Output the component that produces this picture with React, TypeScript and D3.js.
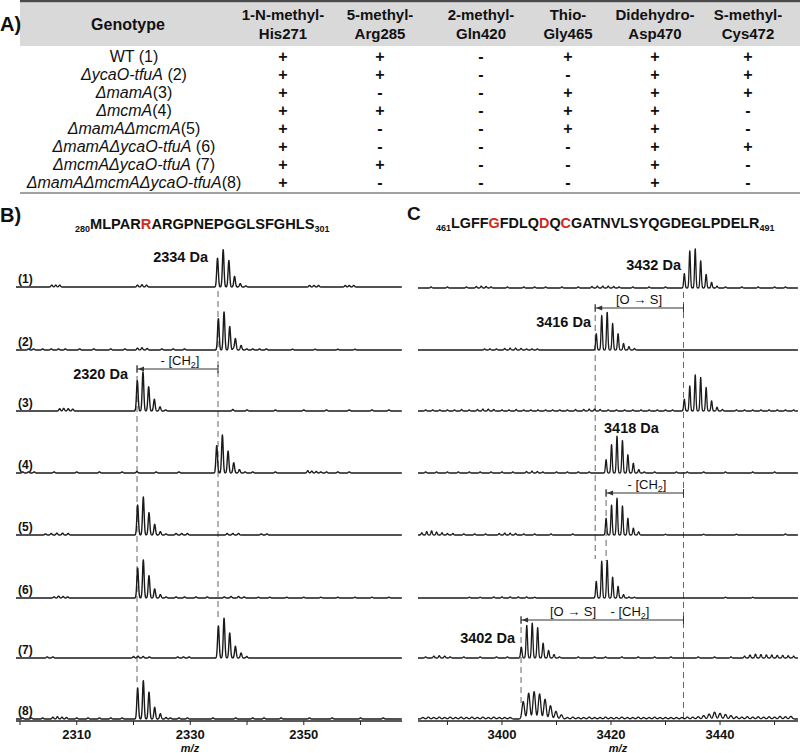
import React from "react";
import * as d3 from "d3";

const FONT = "'Liberation Sans', Arial, Helvetica, sans-serif";
const RED = "#d42a20";

// ---------- Table (A) ----------
const modHeaders1 = ["1-N-methyl-", "5-methyl-", "2-methyl-", "Thio-", "Didehydro-", "S-methyl-"];
const modHeaders2 = ["His271", "Arg285", "Gln420", "Gly465", "Asp470", "Cys472"];
const genotypeNames = ["WT", "ΔycaO-tfuA", "ΔmamA", "ΔmcmA", "ΔmamAΔmcmA", "ΔmamAΔycaO-tfuA", "ΔmcmAΔycaO-tfuA", "ΔmamAΔmcmAΔycaO-tfuA"];
const genotypeItalic = [false, true, true, true, true, true, true, true];
const genotypeSuffix = [" (1)", " (2)", "(3)", "(4)", "(5)", " (6)", " (7)", "(8)"];
const modPresence = ["++-+++", "++--++", "+--+++", "++-++-", "+--++-", "+---++", "++--+-", "+---+-"];

// ---------- Spectra (B) ----------
const bDomain = [2299.3, 2367.3];
const bTicks = [2300, 2310, 2320, 2330, 2340, 2350, 2360];
const bTickLabels = [2310, 2330, 2350];
const bMono = [2334.8, 2334.95, 2320.67, 2334.66, 2320.73, 2320.73, 2334.95, 2320.73];
const bEnvelopes = [
  [76, 98, 70, 28, 9, 3],
  [83, 100, 62, 30, 12, 3],
  [80, 103, 64, 31, 11, 3],
  [72, 100, 58, 27, 9, 3],
  [79, 100, 59, 28, 9, 3],
  [79, 100, 59, 24, 9, 3],
  [85, 105, 66, 31, 13, 4],
  [82, 101, 71, 31, 14, 4],
];
const bMinor = [
  [[2305.6, 5], [2306.3, 5], [2307, 5], [2320.7, 5], [2321.5, 6], [2322.3, 5], [2351, 4], [2351.8, 4], [2352.6, 4], [2357.3, 4], [2358, 4], [2358.8, 4]],
  [[2301.5, 3], [2302.4, 3], [2304, 3], [2305.5, 3], [2306.8, 3], [2308, 3], [2310.5, 3], [2313, 3], [2316, 3], [2318.5, 3], [2320.7, 5], [2321.5, 6], [2322.4, 4], [2325, 3], [2327, 3], [2329, 3], [2337.6, 4], [2341, 3], [2342.2, 3], [2343.4, 3], [2348, 2], [2352, 2], [2356, 2], [2359, 2]],
  [[2307, 6], [2307.7, 7], [2308.5, 6], [2309.3, 5], [2337.5, 4], [2340, 3], [2345, 3], [2350, 3], [2354, 3], [2358, 3], [2362, 3], [2365, 3]],
  [[2300.5, 3], [2301.5, 3], [2302.5, 3], [2306, 3], [2310, 3], [2314, 3], [2318, 3], [2320.6, 4], [2324, 3], [2328, 3], [2341, 3], [2345, 3], [2350.7, 6], [2351.4, 5], [2352.2, 4], [2353, 3], [2354, 3], [2356, 3], [2358, 3]],
  [[2304.5, 3], [2305.5, 4], [2306.5, 5], [2307.5, 5], [2308.5, 4], [2327.5, 4], [2328.5, 4], [2329.5, 4], [2336.5, 4], [2337.5, 4], [2338.5, 4], [2342.5, 3], [2343.5, 3]],
  [[2306, 3], [2306.8, 5], [2307.6, 4], [2308.4, 3], [2327.5, 3], [2329, 3], [2331, 3], [2333, 3], [2336, 3], [2337.2, 4], [2338.5, 4], [2339.5, 3], [2342, 2], [2344, 2], [2347, 2], [2350, 2], [2353, 2], [2356, 2], [2359, 2], [2362, 2], [2365, 2]],
  [[2304.8, 3], [2305.8, 3], [2320, 4], [2320.8, 5], [2321.7, 4], [2322.8, 3], [2327.8, 3], [2328.8, 3], [2329.8, 3]],
  [[2300.5, 3], [2302, 3], [2304, 3], [2305.8, 5], [2306.6, 6], [2307.4, 5], [2308.2, 4], [2310, 3], [2312, 3], [2314, 3], [2316, 3], [2318, 3], [2326.5, 3], [2328, 3], [2329.5, 3], [2334, 3], [2338, 3], [2341, 3], [2343, 3], [2346, 3], [2351, 3], [2355, 3], [2360, 3], [2364, 3]],
];

// ---------- Spectra (C) ----------
const cDomain = [3384.6, 3454.3];
const cTicks = [3390, 3400, 3410, 3420, 3430, 3440, 3450];
const cTickLabels = [3400, 3420, 3440];
const cMono = [3433.45, 3417.3, 3433.45, 3419.1, 3419.1, 3417.3, 3403.55, 3403.9];
const cEnvelopes = [
  [38, 98, 103, 72, 36, 15, 5],
  [43, 91, 100, 70, 43, 17, 9, 4],
  [31, 66, 95, 89, 62, 27, 10, 4],
  [35, 75, 97, 86, 48, 26, 9, 3],
  [44, 79, 97, 77, 44, 18, 6],
  [44, 97, 100, 55, 31, 9, 3, 2],
  [29, 86, 92, 80, 39, 20, 9, 3],
  [46, 68, 72, 66, 52, 35, 20, 11],
];
const cSigma = [0.12, 0.12, 0.12, 0.12, 0.12, 0.12, 0.13, 0.22];
const cMinor = [
  [[3387, 3], [3390, 3], [3393.5, 3], [3395.3, 4], [3396.2, 5], [3397.1, 4], [3398, 3], [3401, 3], [3404, 3], [3406, 3], [3408, 3], [3411, 3], [3414, 3], [3416.5, 4], [3417.5, 5], [3418.5, 5], [3419.5, 5], [3420.5, 4], [3421.5, 3], [3424, 3], [3427, 3], [3430, 3], [3441, 3], [3444, 3], [3447, 3], [3450, 3], [3452, 3]],
  [[3396.8, 3], [3397.8, 3], [3399, 3], [3400.5, 4], [3401.5, 5], [3402.5, 5], [3403.5, 4], [3404.5, 3], [3405.5, 3], [3406.5, 3]],
  [[3386, 3], [3387.3, 3], [3388.6, 3], [3390, 3], [3391.3, 3], [3392.6, 4], [3394, 3], [3395.5, 4], [3396.5, 5], [3397.5, 5], [3398.5, 4], [3400, 3], [3401.3, 3], [3402.6, 4], [3404, 3], [3405.3, 3], [3406.6, 3], [3408, 3], [3409.3, 3], [3410.6, 3], [3412, 3], [3413.5, 4], [3415, 4], [3416, 5], [3417, 5], [3418, 4], [3419.5, 3], [3421, 3], [3422.5, 3], [3424, 3], [3425.5, 3], [3427, 3], [3428.5, 3], [3430, 3], [3431.3, 3], [3443, 3], [3444.5, 3], [3446, 3], [3447.5, 3], [3449, 3], [3450.5, 3], [3452, 3], [3453.5, 3]],
  [[3386, 3], [3388, 3], [3390, 3], [3392, 3], [3394, 3], [3396, 3], [3398, 3], [3400, 3], [3402, 3], [3404.5, 4], [3405.5, 5], [3406.5, 4], [3407.5, 3], [3410, 3], [3412, 3], [3414, 3], [3416, 3], [3428, 3], [3432, 3], [3434, 3], [3437, 3], [3441, 3], [3446, 3], [3450, 3]],
  [[3385.3, 6], [3386.2, 9], [3387.1, 11], [3388, 8], [3389, 6], [3390, 4], [3391, 4], [3393, 3], [3395, 3], [3397, 3], [3399.5, 4], [3400.5, 5], [3401.5, 5], [3402.5, 4], [3404, 3], [3406, 3], [3409, 3], [3413, 3], [3425, 3], [3430, 2], [3437, 2], [3443, 2], [3452, 3]],
  [[3394, 2], [3396, 2], [3398.5, 3], [3400, 3], [3401.5, 3], [3403, 3], [3404.5, 3], [3406, 2], [3441, 2], [3446, 2]],
  [[3386, 3], [3387.5, 5], [3388.5, 6], [3389.5, 5], [3390.5, 3], [3393, 3], [3396, 3], [3399, 3], [3401, 3], [3414, 3], [3417, 3], [3419, 3], [3422, 3], [3425, 3], [3428, 3], [3431, 3], [3436, 3], [3439, 3], [3442, 3], [3444.5, 5], [3445.5, 8], [3446.5, 10], [3447.5, 9], [3448.5, 8], [3449.5, 8], [3450.5, 7], [3451.5, 7], [3452.5, 6], [3453.5, 5]],
  [[3385.5, 4], [3386.5, 5], [3387.5, 4], [3388.5, 5], [3389.5, 4], [3390.5, 5], [3391.5, 4], [3392.5, 5], [3393.5, 4], [3394.5, 5], [3395.5, 4], [3396.5, 5], [3397.5, 4], [3398.5, 5], [3399.5, 4], [3400.5, 4], [3401.5, 4], [3412, 4], [3413, 5], [3414, 4], [3415, 4], [3416, 5], [3417, 4], [3418, 4], [3419, 5], [3420, 4], [3421, 4], [3422, 5], [3423, 4], [3424, 4], [3425, 5], [3426, 4], [3427, 4], [3428, 5], [3429, 4], [3430, 4], [3431, 4], [3432, 4], [3433, 4], [3434, 5], [3435, 5], [3436, 6], [3437, 9], [3438, 13], [3439, 18], [3440, 15], [3441, 12], [3442, 9], [3443, 6], [3444, 5], [3445, 6], [3446, 5], [3447, 6], [3448, 5], [3449, 6], [3450, 5], [3451, 7], [3452, 6], [3453, 7]],
];

const bDashed = [2320.62, 2334.89];
const cDashed = [3417.1, 3419.1, 3403.5, 3433.3];

const W = 800, H = 753;
const rowBaselines = [287, 350, 411, 473, 535, 598, 658, 719];
const colCenters = [283, 380, 481, 568, 655, 748];

const xB = d3.scaleLinear().domain(bDomain).range([16, 402]);
const xC = d3.scaleLinear().domain(cDomain).range([418, 798]);
const yInt = d3.scaleLinear().domain([0, 100]).range([0, 38]);

function tracePath(x, baseline, mono, env, minor, sigma) {
  const peaks = env.map((h, k) => [mono + k * 1.0, h]).concat(minor);
  const [d0, d1] = x.domain();
  const xs = d3.range(d0, d1 + 0.001, 0.035);
  const line = d3.line().x((d) => x(d[0])).y((d) => baseline - yInt(d[1]));
  const pts = xs.map((m) => {
    let s = 0;
    for (const [pm, ph] of peaks) {
      const z = (m - pm) / sigma;
      if (z > -5 && z < 5) s += ph * Math.exp(-0.5 * z * z);
    }
    return [m, s];
  });
  return line(pts);
}

function Bracket({ x1, x2, y }) {
  return (
    <g stroke="#333" fill="none" strokeWidth={1}>
      <line x1={x1} x2={x2} y1={y} y2={y} />
      <line x1={x1} x2={x1} y1={y - 4} y2={y + 4} />
      <line x1={x2} x2={x2} y1={y - 4} y2={y + 4} />
      <path d={`M${x1 + 1},${y} L${x1 + 7},${y - 2.5} L${x1 + 7},${y + 2.5} Z`} fill="#333" stroke="none" />
    </g>
  );
}

function CH2({ x, y }) {
  return (
    <text x={x} y={y} fontSize={13} textAnchor="middle" fill="#111">
      - [CH<tspan fontSize={9} dy={3}>2</tspan><tspan dy={-3}>]</tspan>
    </text>
  );
}

function OtoS({ x, y }) {
  return (
    <text x={x} y={y} fontSize={13} textAnchor="middle" fill="#111">
      [O → S]
    </text>
  );
}

function Axis({ x, ticks, labels, y, labelX }) {
  const [r0, r1] = x.range();
  return (
    <g>
      <line x1={r0} x2={r1} y1={y} y2={y} stroke="#222" strokeWidth={1.3} />
      {ticks.map((t) => (
        <line key={t} x1={x(t)} x2={x(t)} y1={y} y2={y + 4} stroke="#222" strokeWidth={1} />
      ))}
      {labels.map((t) => (
        <text key={t} x={x(t)} y={738.5} fontSize={13} fontWeight="bold" textAnchor="middle" fill="#111">{t}</text>
      ))}
      <text x={labelX} y={752} fontSize={11} fontWeight="bold" fontStyle="italic" textAnchor="middle" fill="#111">m/z</text>
    </g>
  );
}

export default function App() {
  const rowY = (i) => 56 + i * 18.1;
  return (
    <svg width={W} height={H} viewBox={`0 0 ${W} ${H}`} style={{ position: "absolute", left: 0, top: 0, background: "#fff" }} fontFamily={FONT}>
      <rect x={0} y={0} width={W} height={H} fill="#fff" />
      {/* Table A */}
      <rect x={20} y={2} width={780} height={44} fill="#d9d9d9" />
      <rect x={20} y={0} width={780} height={2.2} fill="#4a4a4a" />
      <text x={0} y={31} fontSize={20} fontWeight="bold" fill="#111">A)</text>
      <text x={128} y={29.5} fontSize={16} fontWeight="bold" textAnchor="middle" fill="#111">Genotype</text>
      {modHeaders1.map((h, j) => (
        <g key={j}>
          <text x={colCenters[j]} y={20} fontSize={15} fontWeight="bold" textAnchor="middle" fill="#111">{h}</text>
          <text x={colCenters[j]} y={38.5} fontSize={15} fontWeight="bold" textAnchor="middle" fill="#111">{modHeaders2[j]}</text>
        </g>
      ))}
      {genotypeNames.map((g, i) => (
        <g key={i}>
          <text x={134} y={rowY(i) + 5.5} fontSize={16} textAnchor="middle" fill="#111">
            <tspan fontStyle={genotypeItalic[i] ? "italic" : "normal"}>{g}</tspan>
            <tspan>{genotypeSuffix[i]}</tspan>
          </text>
          {modPresence[i].split("").map((c, j) => (
            <text key={j} x={colCenters[j]} y={rowY(i) + 5.5} fontSize={16} fontWeight="bold" textAnchor="middle" fill="#111">{c}</text>
          ))}
        </g>
      ))}
      <line x1={20} x2={800} y1={193} y2={193} stroke="#444" strokeWidth={1.2} />

      {/* Panel B */}
      <text x={0} y={222} fontSize={20} fontWeight="bold" fill="#111">B)</text>
      <text x={75} y={229} fontWeight="bold" fill="#111" fontSize={14.6}>
        <tspan fontSize={9} dy={3}>280</tspan>
        <tspan dy={-3}>MLPAR</tspan>
        <tspan fill={RED}>R</tspan>
        <tspan>ARGPNEPGGLSFGHLS</tspan>
        <tspan fontSize={9} dy={3}>301</tspan>
      </text>

      {/* Panel C */}
      <text x={407} y={220} fontSize={19} fontWeight="bold" fill="#111">C</text>
      <text x={436} y={228} fontWeight="bold" fill="#111" fontSize={14.4}>
        <tspan fontSize={9} dy={3}>461</tspan>
        <tspan dy={-3}>LGFF</tspan>
        <tspan fill={RED}>G</tspan>
        <tspan>FDLQ</tspan>
        <tspan fill={RED}>D</tspan>
        <tspan>Q</tspan>
        <tspan fill={RED}>C</tspan>
        <tspan>GATNVLSYQGDEGLPDELR</tspan>
        <tspan fontSize={9} dy={3}>491</tspan>
      </text>

      {/* dashed guides */}
      <g stroke="#666" strokeWidth={1} strokeDasharray="6,4">
        <line x1={xB(bDashed[0])} x2={xB(bDashed[0])} y1={366} y2={686} />
        <line x1={xB(bDashed[1])} x2={xB(bDashed[1])} y1={291} y2={621} />
        <line x1={xC(cDashed[0])} x2={xC(cDashed[0])} y1={305} y2={559} />
        <line x1={xC(cDashed[1])} x2={xC(cDashed[1])} y1={490} y2={561} />
        <line x1={xC(cDashed[2])} x2={xC(cDashed[2])} y1={617} y2={703} />
        <line x1={xC(cDashed[3])} x2={xC(cDashed[3])} y1={292} y2={720} />
      </g>

      {/* traces */}
      {rowBaselines.map((b, i) => (
        <g key={i}>
          <text x={18} y={b - 4} fontSize={12} fontWeight="bold" fill="#111">({i + 1})</text>
          <path d={tracePath(xB, b, bMono[i], bEnvelopes[i], bMinor[i], 0.14)} fill="none" stroke="#1a1a1a" strokeWidth={1.4} strokeLinejoin="round" />
          <path d={tracePath(xC, b + (i === 0 ? 1 : 0), cMono[i], cEnvelopes[i], cMinor[i], cSigma[i])} fill="none" stroke="#1a1a1a" strokeWidth={1.3} strokeLinejoin="round" />
        </g>
      ))}

      {/* mass labels */}
      <g fontSize={14.5} fontWeight="bold" fill="#111">
        <text x={208} y={262} textAnchor="end">2334 Da</text>
        <text x={128} y={379} textAnchor="end">2320 Da</text>
        <text x={681} y={270} textAnchor="end">3432 Da</text>
        <text x={591} y={327} textAnchor="end">3416 Da</text>
        <text x={604} y={433} textAnchor="start">3418 Da</text>
        <text x={515} y={643} textAnchor="end">3402 Da</text>
      </g>

      {/* brackets */}
      <Bracket x1={xB(bDashed[0])} x2={xB(bDashed[1])} y={369} />
      <CH2 x={180} y={365} />
      <Bracket x1={xC(cDashed[0])} x2={xC(cDashed[3])} y={308} />
      <OtoS x={639} y={304} />
      <Bracket x1={xC(cDashed[1])} x2={xC(cDashed[3])} y={493} />
      <CH2 x={647} y={489} />
      <Bracket x1={xC(cDashed[2])} x2={xC(cDashed[3])} y={620} />
      <OtoS x={573} y={616} />
      <CH2 x={630} y={616} />

      {/* axes */}
      <Axis x={xB} ticks={bTicks} labels={bTickLabels} y={721} labelX={190} />
      <Axis x={xC} ticks={cTicks} labels={cTickLabels} y={721} labelX={618} />
    </svg>
  );
}
